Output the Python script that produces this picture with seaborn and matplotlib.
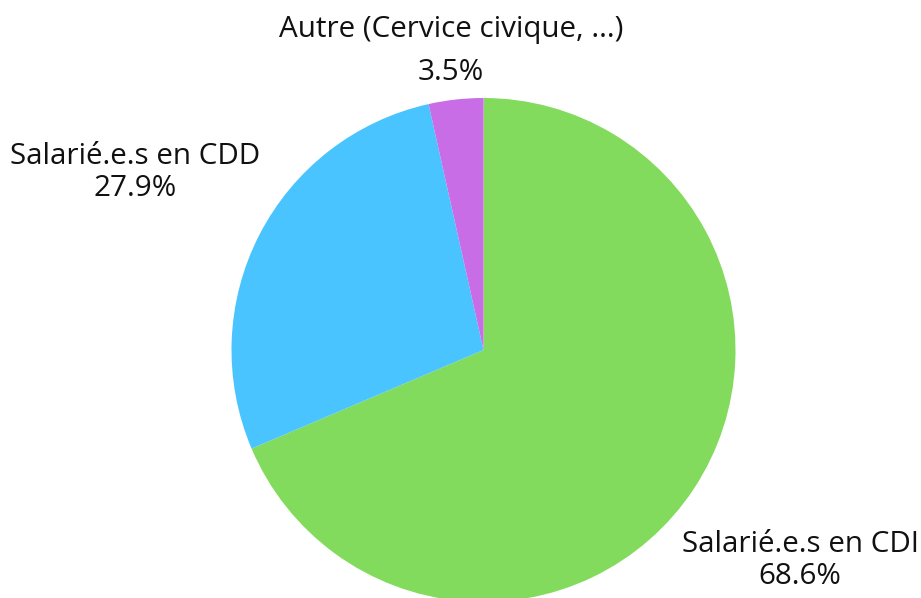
import matplotlib
matplotlib.use("Agg")
import matplotlib.pyplot as plt
import seaborn as sns

sns.set_theme(style="white")
plt.rcParams['font.family'] = ['Open Sans', 'DejaVu Sans']

categories = ["Salarié.e.s en CDI", "Salarié.e.s en CDD", "Autre (Cervice civique, ...)"]
values = [68.6, 27.9, 3.5]
colors = ["#82DB5C", "#4AC4FE", "#C86DE6"]

W, H = 921, 598
fig = plt.figure(figsize=(W / 100, H / 100), dpi=100)
cx, cy, r = 483.5, 350, 252
ax = fig.add_axes([(cx - r) / W, (H - cy - r) / H, 2 * r / W, 2 * r / H])
ax.pie(values, colors=colors, startangle=90, counterclock=False,
       wedgeprops=dict(linewidth=0), radius=1)
ax.set_xlim(-1, 1)
ax.set_ylim(-1, 1)
ax.set_aspect("equal")
ax.axis("off")

label_pos = {
    0: ((800, 544), (800, 577)),
    1: ((135, 156), (135, 188)),
    2: ((451, 30), (451, 72)),
}
fs = 21.3
for i, (cat, v) in enumerate(zip(categories, values)):
    (x1, y1), (x2, y2) = label_pos[i]
    fig.text(x1 / W, 1 - y1 / H, cat, ha="center", va="center", fontsize=fs, color="#111111")
    fig.text(x2 / W, 1 - y2 / H, f"{v:.1f}%", ha="center", va="center", fontsize=fs, color="#111111")

fig.savefig("out.png", dpi=100)
